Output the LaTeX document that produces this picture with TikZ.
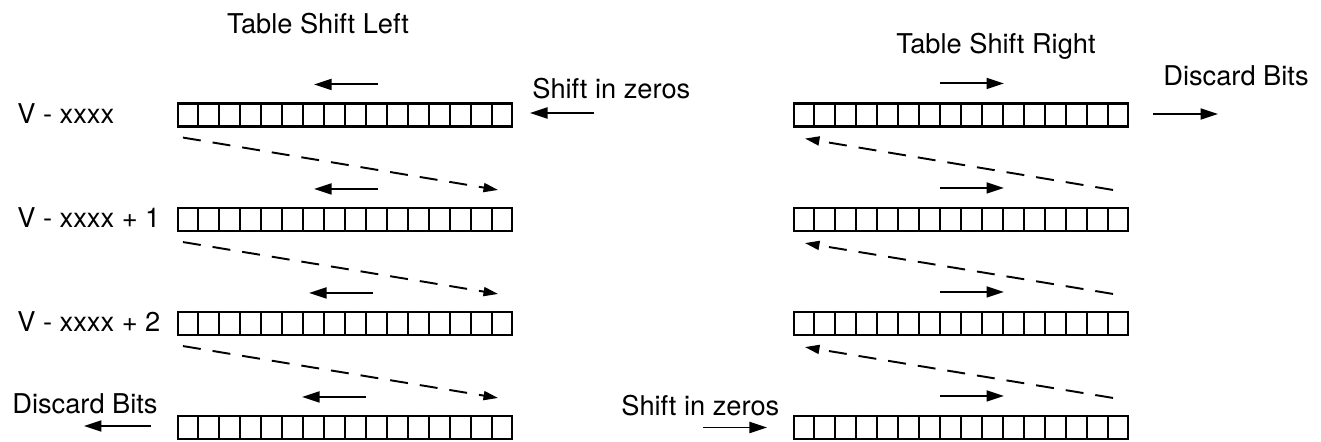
\documentclass[tikz,border=0pt]{standalone}
\usepackage{fontspec}
\setmainfont{TeX Gyre Heros}
\usepackage{tikz}
\usetikzlibrary{arrows.meta, calc}

\begin{document}
\begin{tikzpicture}[
    x=0.02cm, y=-0.02cm,
    reg/.style={rectangle, draw, line width=1.2pt, minimum width=6.68cm, minimum height=0.46cm, inner sep=0pt},
    txt/.style={font=\fontsize{15.5}{18}\selectfont, inner sep=0pt, anchor=base west},
    arrow/.style={-{Triangle[length=3.5mm, width=2.2mm]}, line width=1.1pt},
    wrap/.style={-{Triangle[length=2.9mm, width=1.8mm]}, line width=1.1pt, dash pattern=on 0.36cm off 0.24cm}
]
\useasboundingbox (0,0) rectangle (1321,441);

% Shift left table (left side)
\node[reg] (L1) at (345,115) {};
\node[reg] (L2) at (345,219.5) {};
\node[reg] (L3) at (345,323.5) {};
\node[reg] (L4) at (345,427.5) {};

% Shift right table (right side)
\node[reg] (R1) at (961,115) {};
\node[reg] (R2) at (961,219.5) {};
\node[reg] (R3) at (961,323.5) {};
\node[reg] (R4) at (961,427.5) {};

% Bit cells
\foreach \n in {L1,L2,L3,L4,R1,R2,R3,R4}
  \foreach \i in {1,...,15}
    \draw[line width=1.2pt] ($(\n.north west)!\i/16!(\n.north east)$) -- ($(\n.south west)!\i/16!(\n.south east)$);

% Titles
\node[txt, anchor=base] (tl) at (318,33) {Table Shift Left};
\node[txt, anchor=base] (tr) at (996,53) {Table Shift Right};

% Register names
\node[txt] (v0) at (17,123) {V - xxxx};
\node[txt] (v1) at (17,227) {V - xxxx + 1};
\node[txt] (v2) at (17,331) {V - xxxx + 2};

% Side labels
\node[txt] (zl) at (532,98) {Shift in zeros};
\node[txt] (dr) at (1163,85) {Discard Bits};
\node[txt] (dl) at (12,413) {Discard Bits};
\node[txt] (zr) at (621,415) {Shift in zeros};

% Shift direction arrows
\foreach \r/\dx in {1/0,2/0,3/-5,4/-12} {
  \draw[arrow] ($(L\r.north)+(33+\dx,-18)$) -- ($(L\r.north)+(-31+\dx,-18)$);
  \draw[arrow] ($(R\r.north)+(-21,-19)$) -- ($(R\r.north)+(43,-19)$);
}

% Bits in and out
\draw[arrow] ($(L1.east)+(81,-2)$) -- ($(L1.east)+(17,-2)$);
\draw[arrow] ($(R1.east)+(24,-1)$) -- ($(R1.east)+(89,-1)$);
\draw[arrow] ($(L4.west)+(-26,-1.5)$) -- ($(L4.west)+(-93,-1.5)$);
\draw[arrow] ($(R4.west)+(-90,0)$) -- ($(R4.west)+(-26,0)$);

% Carry to next word
\foreach \a/\b in {1/2,2/3,3/4} {
  \draw[wrap] ($(L\a.south west)+(6,10)$) -- ($(L\b.north east)+(-15,-17)$);
  \draw[wrap] ($(R\b.north east)+(-16,-17)$) -- ($(R\a.south west)+(12,11)$);
}

\end{tikzpicture}
\end{document}
